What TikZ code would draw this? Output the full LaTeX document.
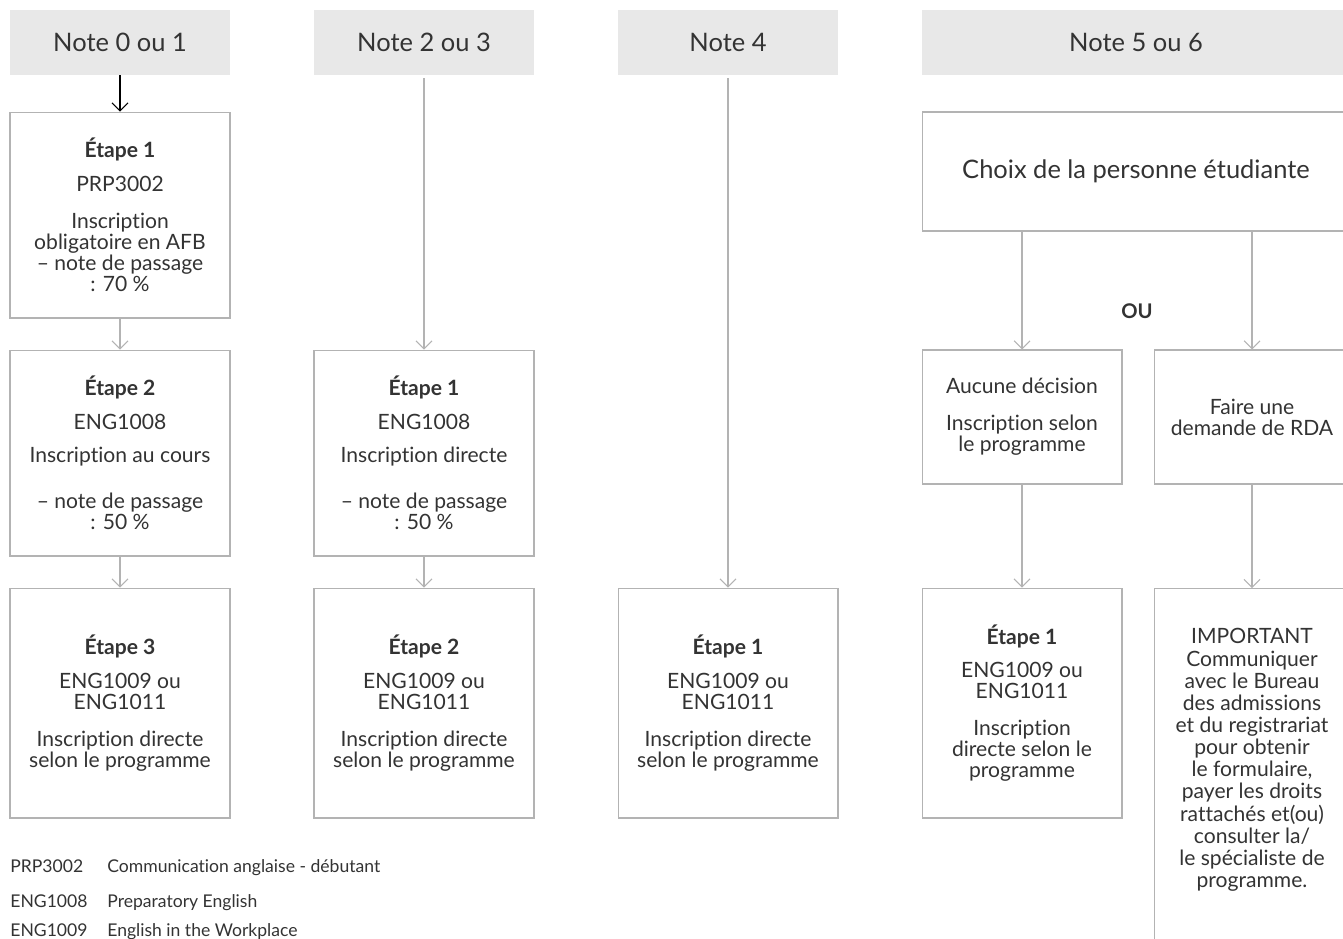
\documentclass[tikz,border=0pt]{standalone}
\usepackage{fontspec}
\setmainfont{Lato}[RawFeature={-liga;-clig;-dlig;-calt}]
\usetikzlibrary{arrows.meta,positioning}
\definecolor{txt}{HTML}{333333}
\definecolor{boxline}{HTML}{B3B3B3}
\definecolor{headfill}{HTML}{E8E8E8}
\newcommand{\etape}[1]{\textbf{Étape #1}}

\begin{document}
\begin{tikzpicture}
[x=0.02cm,y=-0.02cm,
node distance=0.64cm,
%
head/.style={shape=rectangle,fill=headfill,minimum width=4.4cm,minimum height=1.3cm,inner sep=0pt,text=txt,font=\fontsize{14.5}{16}\selectfont},
stepbox/.style={shape=rectangle,draw=boxline,line width=0.6pt,minimum width=4.4cm,inner sep=2pt,text=txt,align=center,font=\fontsize{12}{12}\selectfont},
upper/.style={stepbox,minimum height=4.12cm},
lower/.style={stepbox,minimum height=4.6cm},
%
dedge/.style={boxline,line width=0.6pt,-{Straight Barb[length=4.5pt,width=9pt,line width=0.6pt]}},
legend/.style={anchor=base west,inner sep=0pt,text=txt,font=\fontsize{10}{12}\selectfont}]
%
\useasboundingbox (0,0) rectangle (1343,938);
\clip (0,0) rectangle (1343,938);
%
% headers
\foreach \x/\t [count=\i] in {120/Note 0 ou 1,424/Note 2 ou 3,728/Note 4}
\node (n\i) [head] at (\x,42.5) {\t};
\node (n4) [head,minimum width=8.56cm] at (1136,42.5) {Note 5 ou 6};
%
% Note 0 ou 1
\node (a1) [upper] at (120,215) {\etape{1}\\[7pt] PRP3002\\[9pt] Inscription\\ obligatoire en AFB\\ – note de passage\\ : 70~\%};
\node (a2) [upper] at (120,453) {\etape{2}\\[7pt] ENG1008\\[7pt] Inscription au cours\\[14pt] – note de passage\\ : 50~\%};
\node (a3) [lower] at (120,703) {\etape{3}\\[7pt] ENG1009 ou\\ ENG1011\\[9pt] Inscription directe\\ selon le programme};
%
% Note 2 ou 3
\node (b1) [upper] at (424,453) {\etape{1}\\[7pt] ENG1008\\[7pt] Inscription directe\\[14pt] – note de passage\\ : 50~\%};
\node (b2) [lower] at (424,703) {\etape{2}\\[7pt] ENG1009 ou\\ ENG1011\\[9pt] Inscription directe\\ selon le programme};
%
% Note 4
\node (c1) [lower] at (728,703) {\etape{1}\\[7pt] ENG1009 ou\\ ENG1011\\[9pt] Inscription directe\\ selon le programme};
%
% Note 5 ou 6
\node (choix) [stepbox,minimum width=8.56cm,minimum height=2.38cm,font=\fontsize{14.5}{16}\selectfont] at (1136,171.5) {Choix de la personne étudiante};
\node (ou) [text=txt,font=\fontsize{11.5}{12}\bfseries] at (1137,311) {OU};
\node (aucune) [stepbox,minimum width=4cm,minimum height=2.68cm] at (1022,417) {Aucune décision\\[9pt] Inscription selon\\ le programme};
\node (faire) [stepbox,minimum width=3.92cm,minimum height=2.68cm] at (1252,417) {Faire une\\ demande de RDA};
\node (d1) [lower,minimum width=4cm] at (1022,703) {\etape{1}\\[7pt] ENG1009 ou\\ ENG1011\\[9pt] Inscription\\ directe selon le\\ programme};
\node (imp) [stepbox,anchor=north,minimum width=3.92cm,minimum height=8cm] at (1252,588) {};
\node (impt) [text=txt,align=center,font=\fontsize{12}{12.6}\selectfont] at (1252,760) {IMPORTANT\\ Communiquer\\ avec le Bureau\\ des admissions\\ et du registrariat\\ pour obtenir\\ le formulaire,\\ payer les droits\\ rattachés et(ou)\\ consulter la/\\ le spécialiste de\\ programme.};
%
% edges
\draw[dedge,draw=black] (n1) -- (a1);
\draw[dedge] (a1) -- (a2);
\draw[dedge] (a2) -- (a3);
\draw[dedge,shorten <=1.7pt] (n2) -- (b1);
\draw[dedge] (b1) -- (b2);
\draw[dedge,shorten <=1.7pt] (n3) -- (c1);
\draw[dedge] (choix.south -| aucune) -- (aucune);
\draw[dedge] (choix.south -| faire) -- (faire);
\draw[dedge] (aucune) -- (d1);
\draw[dedge] (faire) -- (imp);
%
% legend
\node (l1) [legend] at (10,872) {PRP3002};
\node [legend] at (107,872) {Communication anglaise - débutant};
\node (l2) [legend] at (10,907) {ENG1008};
\node [legend] at (107,907) {Preparatory English};
\node (l3) [legend] at (10,936) {ENG1009};
\node [legend] at (107,936) {English in the Workplace};
\end{tikzpicture}
\end{document}
